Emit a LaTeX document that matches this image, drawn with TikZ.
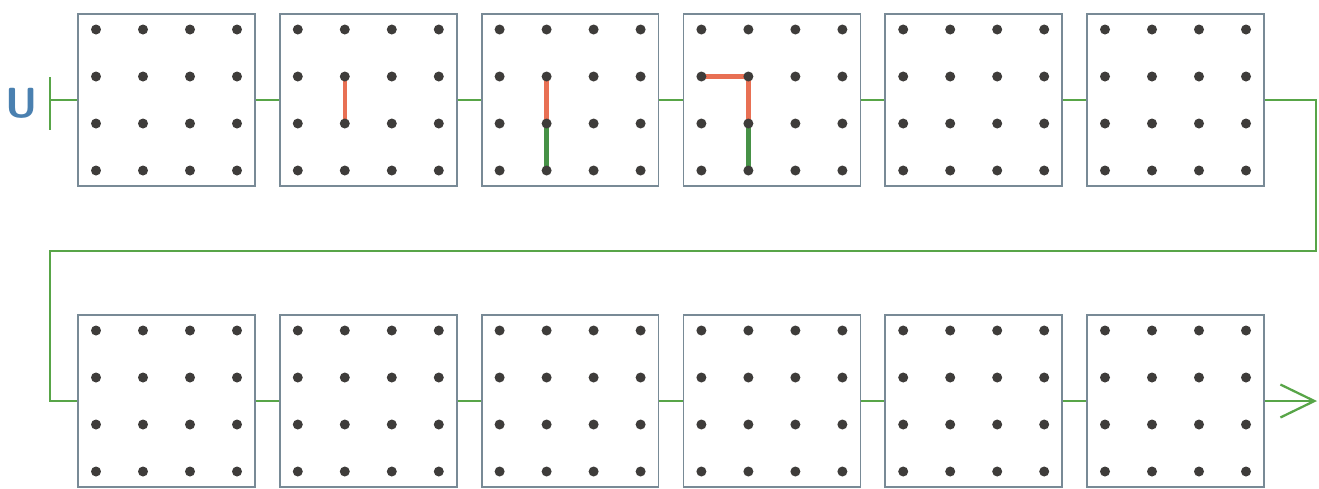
\documentclass[tikz,border=0pt]{standalone}
\usetikzlibrary{arrows.meta}
\definecolor{boardline}{RGB}{120,138,150}
\definecolor{pegcol}{RGB}{62,60,58}
\definecolor{wirecol}{RGB}{88,165,72}
\definecolor{redband}{RGB}{232,112,84}
\definecolor{greenband}{RGB}{70,145,70}
\definecolor{ublue}{RGB}{74,128,176}
\pgfdeclarelayer{bg}
\pgfsetlayers{bg,main}

\begin{document}
\begin{tikzpicture}[x=0.02cm, y=-0.02cm,
    board/.style={draw=boardline, line width=1pt, minimum width=3.54cm, minimum height=3.44cm, inner sep=0pt},
    peg/.style={circle, fill=pegcol, inner sep=0pt, minimum size=0.2cm},
    wire/.style={draw=wirecol, line width=1.3pt},
    band/.style={line width=2.4pt},
]
\useasboundingbox (0,0) rectangle (1319,488);
\foreach \k in {1,...,12} {
  \pgfmathsetmacro\bx{166.5+201.8*mod(\k-1,6)}
  \pgfmathsetmacro\by{\k<7 ? 100 : 401}
  \node[board] (b\k) at (\bx,\by) {};
  \foreach \c in {1,...,4}
    \foreach \r in {1,...,4}
      \node[peg] (b\k-\c-\r) at ([shift={({(\c-2.5)*47},{(\r-2.5)*47})}]b\k.center) {};
}
\node[font=\fontsize{24}{24}\selectfont\sffamily\bfseries, text=ublue] (u) at (22,103) {U};
\coordinate (bartop) at (50,77);
\coordinate (barbot) at (50,130);
\coordinate (bar) at (50,100);
\coordinate (turnR) at (1316,251);
\coordinate (turnL) at (50,251);
\coordinate (out) at (1317,401);
\draw[wire] (bartop) -- (barbot);
\draw[wire] (bar) -- (b1.west);
\foreach \k [evaluate=\k as \n using int(\k+1)] in {1,...,5,7,8,...,11}
  \draw[wire] (b\k.east) -- (b\n.west);
\draw[wire] (b6.east) -| (turnR) -- (turnL) |- (b7.west);
\draw[wire, -{Straight Barb[length=0.68cm, width=0.66cm]}] (b12.east) -- (out);
% moves on the boards
\begin{pgfonlayer}{bg}
\draw[band, redband] (b2-2-2.center) -- (b2-2-3.center);
\draw[band, redband] (b3-2-2.center) -- (b3-2-3.center);
\draw[band, greenband] (b3-2-3.center) -- (b3-2-4.center);
\draw[band, redband] (b4-1-2.center) -- (b4-2-2.center) -- (b4-2-3.center);
\draw[band, greenband] (b4-2-3.center) -- (b4-2-4.center);
\end{pgfonlayer}
\end{tikzpicture}
\end{document}
